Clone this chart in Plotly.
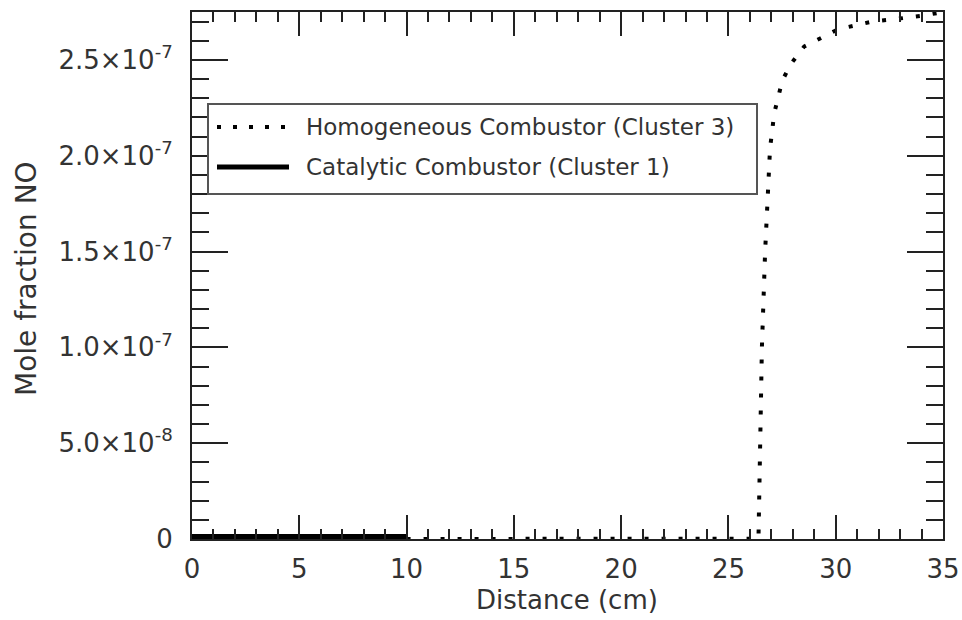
import plotly.graph_objects as go

# ---- data ----
hom_x = [10, 12, 14, 16, 18, 20, 22, 24, 26.0, 26.3, 26.40, 26.48, 26.56, 26.71,
         26.85, 26.90, 26.94, 27.04, 27.13, 27.31, 27.50, 27.92, 28.53, 29.41,
         30.11, 30.90, 31.69, 32.53, 33.22, 34.02, 35.0]
hom_y = [0, 0, 0, 0, 0, 0, 0, 0, 0, 0, 0.002e-7, 0.5e-7, 1.0e-7, 1.5e-7,
         1.78e-7, 1.96e-7, 2.04e-7, 2.13e-7, 2.22e-7, 2.30e-7, 2.39e-7, 2.48e-7,
         2.57e-7, 2.62e-7, 2.66e-7, 2.68e-7, 2.70e-7, 2.71e-7, 2.72e-7, 2.73e-7, 2.75e-7]
cat_x = [0, 10]
cat_y = [0, 0]

x_ticks = [0, 5, 10, 15, 20, 25, 30, 35]
y_ticks = [0, 5e-8, 1e-7, 1.5e-7, 2e-7, 2.5e-7]
y_ticktext = ["0", "5.0\u00d710<sup>-8</sup>", "1.0\u00d710<sup>-7</sup>",
              "1.5\u00d710<sup>-7</sup>", "2.0\u00d710<sup>-7</sup>", "2.5\u00d710<sup>-7</sup>"]

legend_labels = ["Homogeneous Combustor (Cluster 3)", "Catalytic Combustor (Cluster 1)"]
x_title = "Distance (cm)"
y_title = "Mole fraction NO"

# ---- style ----
W, H = 962, 620
L, R, T, B = 192, 19, 12, 81
FONT = "DejaVu Sans"
TXT = "#333333"
AX = "#222222"
DOT = "4px,13px"

fig = go.Figure()
fig.add_trace(go.Scatter(x=hom_x, y=hom_y, mode="lines",
                         line=dict(color="black", width=4, dash=DOT),
                         name=legend_labels[0], showlegend=False))
fig.add_trace(go.Scatter(x=cat_x, y=cat_y, mode="lines",
                         line=dict(color="black", width=10),
                         name=legend_labels[1], showlegend=False))

pw, ph = W - L - R, H - T - B
def px(xp):
    return (xp - L) / pw
def py(yp):
    return (H - B - yp) / ph

# manual legend (box, samples, labels)
fig.add_shape(type="rect", xref="paper", yref="paper",
              x0=px(208), x1=px(757), y0=py(194), y1=py(104),
              line=dict(color="#555555", width=2), fillcolor="white", layer="above")
rows = [127, 167]
dashes = ["4px,12px", "solid"]
widths = [4, 5]
for yy, d, w, lab in zip(rows, dashes, widths, legend_labels):
    fig.add_shape(type="line", xref="paper", yref="paper",
                  x0=px(217), x1=px(289), y0=py(yy), y1=py(yy),
                  line=dict(color="black", width=w, dash=d), layer="above")
    fig.add_annotation(xref="paper", yref="paper", x=px(304), y=py(yy),
                       text=lab, showarrow=False, xanchor="left", yanchor="middle",
                       font=dict(family=FONT, size=23, color=TXT))

# axis titles
fig.add_annotation(xref="paper", yref="paper", x=px(26), y=py(279), text=y_title,
                   textangle=-90, showarrow=False, xanchor="center", yanchor="middle",
                   font=dict(family=FONT, size=28, color=TXT))
fig.add_annotation(xref="paper", yref="paper", x=px(567), y=py(600), text=x_title,
                   showarrow=False, xanchor="center", yanchor="middle",
                   font=dict(family=FONT, size=26, color=TXT))

fig.update_layout(
    width=W, height=H,
    margin=dict(l=L, r=R, t=T, b=B, pad=0),
    plot_bgcolor="white", paper_bgcolor="white",
    font=dict(family=FONT, size=26, color=TXT),
    showlegend=False,
)
fig.update_xaxes(
    range=[0, 35], tickvals=x_ticks, ticks="inside", ticklen=24, tickwidth=2,
    tickcolor=AX, showline=True, linecolor=AX, linewidth=2, mirror="allticks",
    showgrid=False, zeroline=False, automargin=False,
    minor=dict(dtick=1, tick0=0, ticks="inside", ticklen=10, tickwidth=2,
               tickcolor=AX, showgrid=False),
    tickfont=dict(family=FONT, size=26, color=TXT), ticklabelstandoff=6,
)
fig.update_yaxes(
    range=[0, 2.75e-7], tickvals=y_ticks, ticktext=y_ticktext, ticks="inside",
    ticklen=36, tickwidth=2, tickcolor=AX, showline=True, linecolor=AX, linewidth=2,
    mirror="allticks", showgrid=False, zeroline=False, automargin=False,
    minor=dict(dtick=1e-8, tick0=0, ticks="inside", ticklen=17, tickwidth=2,
               tickcolor=AX, showgrid=False),
    tickfont=dict(family=FONT, size=26, color=TXT), ticklabelstandoff=12,
)

fig.write_html("out.html")
